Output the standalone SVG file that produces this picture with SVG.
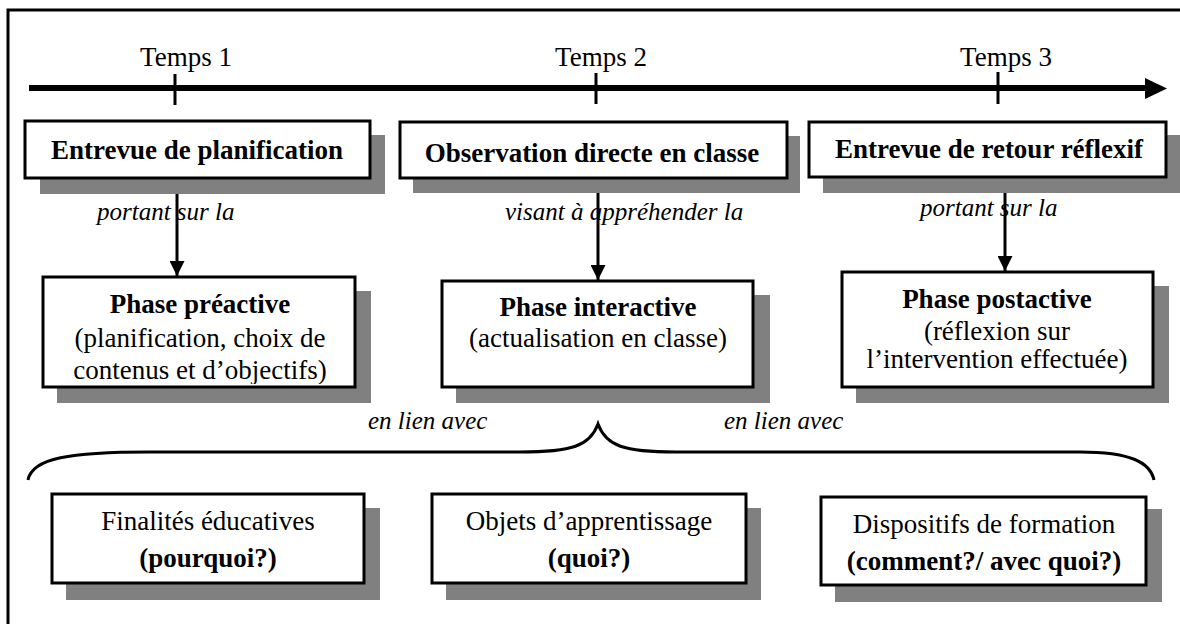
<svg xmlns="http://www.w3.org/2000/svg" width="1180" height="624" viewBox="0 0 1180 624">
<defs>
<style>
.box{fill:#fff;stroke:#000;stroke-width:3}
.sh{fill:#808080}
.t{font-family:"Liberation Serif","Times New Roman",serif;font-size:27px;fill:#000;text-anchor:middle}
.b{font-weight:bold}
.i{font-family:"Liberation Serif","Times New Roman",serif;font-size:25px;font-style:italic;fill:#000}
.ln{stroke:#000;stroke-width:3;fill:none}
</style>
<marker id="ah" viewBox="0 0 10 10" refX="10" refY="5" markerWidth="5" markerHeight="5" markerUnits="strokeWidth" orient="auto"><path d="M0,0 L10,5 L0,10 z" fill="#000"/></marker>
<clipPath id="c1"><rect x="44" y="278" width="310" height="106"/></clipPath>
</defs>
<rect width="1180" height="624" fill="#fff"/>
<path d="M8,624 L8,10 L1180,10" class="ln"/>
<g id="timeline">
<line x1="29" y1="88" x2="1148" y2="88" stroke="#000" stroke-width="6"/>
<polygon points="1145,78 1167,88.5 1145,99" fill="#000"/>
<line x1="175" y1="74" x2="175" y2="105" class="ln"/>
<line x1="596" y1="73" x2="596" y2="104" class="ln"/>
<line x1="998" y1="72" x2="998" y2="104" class="ln"/>
<text x="186" y="66" class="t">Temps 1</text>
<text x="601" y="66" class="t">Temps 2</text>
<text x="1006" y="66" class="t">Temps 3</text>
</g>
<g id="connectors">
<line x1="177" y1="178" x2="177" y2="276" class="ln" marker-end="url(#ah)"/>
<line x1="598" y1="178" x2="598" y2="280" class="ln" marker-end="url(#ah)"/>
<line x1="1005" y1="177" x2="1005" y2="271" class="ln" marker-end="url(#ah)"/>
<path d="M28,480 C32,458 70,452 150,452 L520,452 C572,452 590,446 598,424 C606,446 624,452 676,452 L1080,452 C1130,452 1150,462 1154,480" class="ln"/>
<text x="97" y="220" class="i">portant sur la</text>
<text x="505" y="220" class="i">visant à appréhender la</text>
<text x="920" y="216" class="i">portant sur la</text>
<text x="368" y="429" class="i">en lien avec</text>
<text x="724" y="429" class="i">en lien avec</text>
</g>
<g id="entrevue-planification">
<rect x="40" y="135" width="345" height="59" class="sh"/>
<rect x="25" y="121" width="345" height="57" class="box"/>
<text x="197" y="159" class="t b">Entrevue de planification</text>
</g>
<g id="observation">
<rect x="413" y="136" width="387" height="57" class="sh"/>
<rect x="400" y="122" width="387" height="56" class="box"/>
<text x="592" y="162" class="t b">Observation directe en classe</text>
</g>
<g id="entrevue-retour">
<rect x="823" y="135" width="357" height="58" class="sh"/>
<rect x="809" y="122" width="357" height="55" class="box"/>
<text x="989" y="158" class="t b">Entrevue de retour réflexif</text>
</g>
<g id="phase-preactive">
<rect x="57" y="291" width="314" height="112" class="sh"/>
<rect x="43" y="277" width="312" height="110" class="box"/>
<g clip-path="url(#c1)">
<text x="200" y="313" class="t b">Phase préactive</text>
<text x="200" y="347" class="t">(planification, choix de</text>
<text x="200" y="379" class="t">contenus et d’objectifs)</text>
</g>
</g>
<g id="phase-interactive">
<rect x="456" y="295" width="314" height="108" class="sh"/>
<rect x="442" y="281" width="311" height="106" class="box"/>
<text x="598" y="316" class="t b">Phase interactive</text>
<text x="598" y="347" class="t">(actualisation en classe)</text>
</g>
<g id="phase-postactive">
<rect x="856" y="286" width="313" height="117" class="sh"/>
<rect x="842" y="272" width="311" height="115" class="box"/>
<text x="997" y="308" class="t b">Phase postactive</text>
<text x="997" y="340" class="t">(réflexion sur</text>
<text x="997" y="368" class="t">l’intervention effectuée)</text>
</g>
<g id="finalites">
<rect x="66" y="508" width="314" height="92" class="sh"/>
<rect x="52" y="494" width="312" height="89" class="box"/>
<text x="208" y="530" class="t">Finalités éducatives</text>
<text x="208" y="567" class="t b">(pourquoi?)</text>
</g>
<g id="objets">
<rect x="446" y="508" width="315" height="92" class="sh"/>
<rect x="432" y="494" width="314" height="89" class="box"/>
<text x="589" y="530" class="t">Objets d’apprentissage</text>
<text x="589" y="567" class="t b">(quoi?)</text>
</g>
<g id="dispositifs">
<rect x="835" y="509" width="327" height="93" class="sh"/>
<rect x="821" y="497" width="325" height="88" class="box"/>
<text x="984" y="533" class="t">Dispositifs de formation</text>
<text x="984" y="570" class="t b">(comment?/ avec quoi?)</text>
</g>
</svg>
